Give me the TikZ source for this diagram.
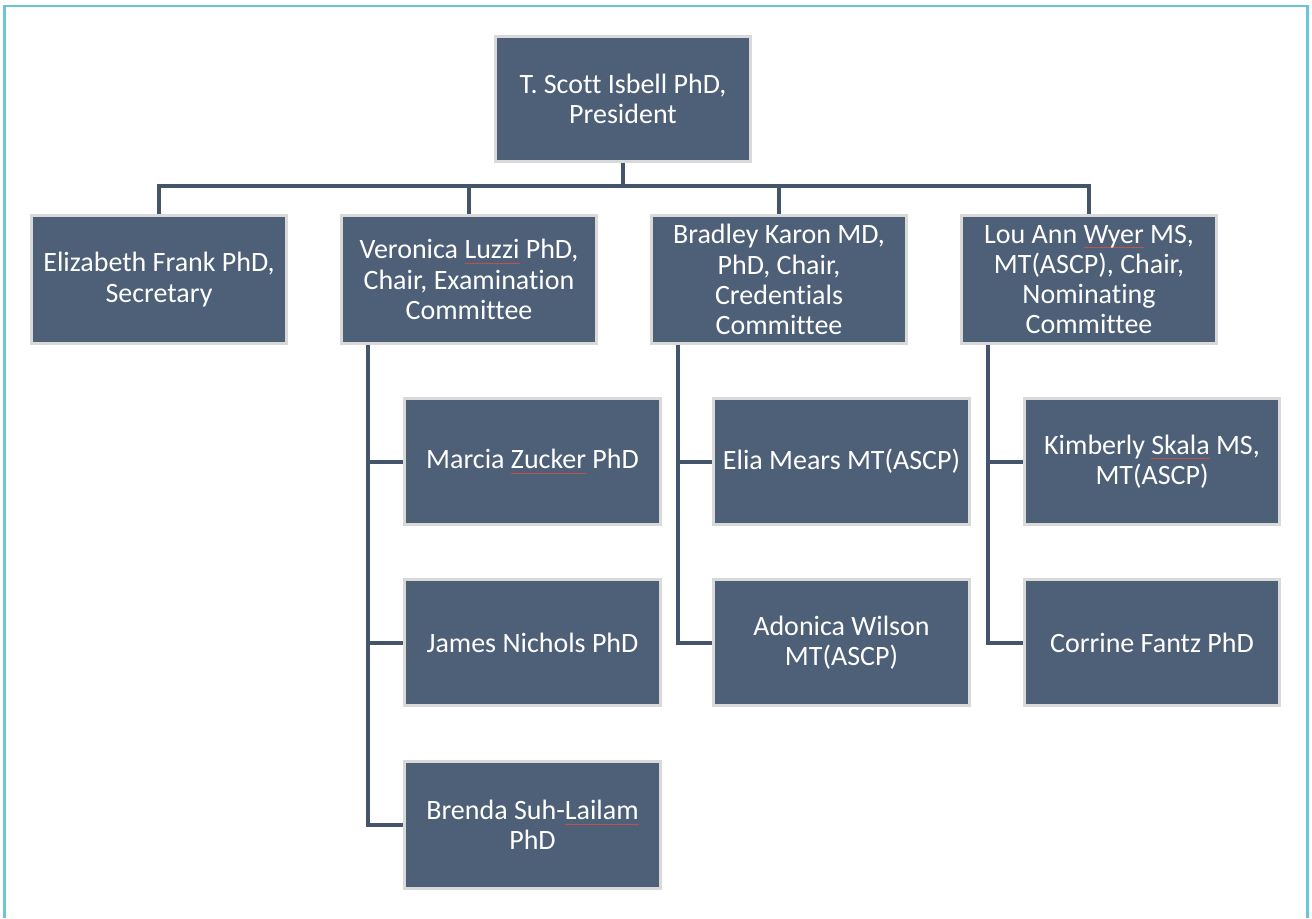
\documentclass[tikz,border=0pt]{standalone}
\usepackage{fontspec}
\setmainfont{Carlito}[Ligatures=NoCommon]
\usetikzlibrary{positioning}
\definecolor{boxfill}{HTML}{4E5F78}
\definecolor{boxedge}{HTML}{D9D9D9}
\definecolor{linkcol}{HTML}{44546A}
\definecolor{framecol}{HTML}{6BC5DA}
\definecolor{sqcol}{HTML}{C0504D}
\newcommand{\sqw}[1]{\setbox0\hbox{#1}\rlap{\raisebox{-3.4pt}{\color{sqcol}\rule{\wd0}{0.45pt}}}#1}
\tikzset{
  orgbox/.style={rectangle, fill=boxfill, draw=boxedge, line width=2.2pt,
    minimum width=191.5pt, minimum height=95pt, inner sep=1pt,
    text=white, align=center,
    font=\fontsize{21pt}{22.6pt}\selectfont},
  link/.style={draw=linkcol, line width=3pt},
}
\begin{document}
\begin{tikzpicture}[x=0.75pt,y=-0.75pt]
\useasboundingbox (0,0) rectangle (1312,918);
% frame
\draw[framecol, line width=2pt] (4.5,918) -- (4.5,6) -- (1307.5,6) -- (1307.5,918);
% nodes
\node[orgbox, minimum height=93.5pt] (pres) at (623,99) {T. Scott Isbell PhD,\\President};
\node[orgbox, minimum height=96pt] (sec) at (159,279.5) {Elizabeth Frank PhD,\\Secretary};
\node[orgbox, minimum height=96pt] (exam) at (469,279.5) {Veronica \sqw{Luzzi} PhD,\\Chair, Examination\\Committee};
\node[orgbox, minimum height=96pt] (cred) at (779,279.5) {Bradley Karon MD,\\PhD, Chair,\\Credentials\\Committee};
\node[orgbox, minimum height=96pt] (nom) at (1089,279.5) {Lou Ann \sqw{Wyer} MS,\\MT(ASCP), Chair,\\Nominating\\Committee};
\node[orgbox] (mz) at (532.5,461.5) {Marcia \sqw{Zucker} PhD};
\node[orgbox] (jn) at (532.5,642.5) {James Nichols PhD};
\node[orgbox] (bs) at (532.5,825) {Brenda Suh-\sqw{Lailam}\\PhD};
\node[orgbox] (em) at (841.5,461.5) {Elia Mears MT(ASCP)};
\node[orgbox] (aw) at (841.5,642.5) {Adonica Wilson\\MT(ASCP)};
\node[orgbox] (ks) at (1152,461.5) {Kimberly \sqw{Skala} MS,\\MT(ASCP)};
\node[orgbox] (cf) at (1152,642.5) {Corrine Fantz PhD};
% connectors
\coordinate (bus) at (623,186);
\draw[link] (pres.south) -- (bus);
\draw[link] (sec.north) |- (bus);
\draw[link] (exam.north) |- (bus);
\draw[link] (cred.north) |- (bus);
\draw[link] (nom.north) |- (bus);
\foreach \p/\c in {exam/mz, exam/jn, exam/bs, cred/em, cred/aw, nom/ks, nom/cf}{
  \draw[link] ([xshift=21pt]\p.south west) |- (\c.west);
}
\end{tikzpicture}
\end{document}
